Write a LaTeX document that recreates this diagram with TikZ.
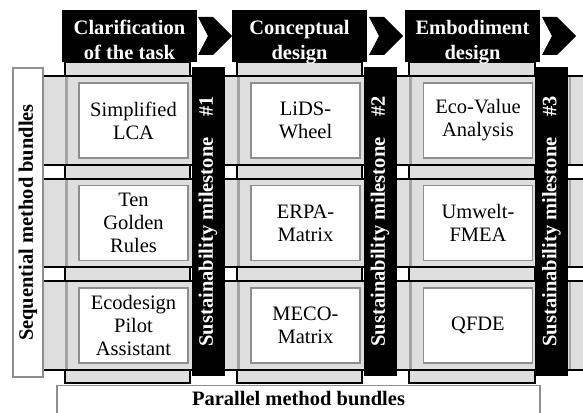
\documentclass[tikz,border=0pt]{standalone}
\usepackage{fontspec}
\setmainfont{Liberation Serif}
\usepackage{tikz}
\usetikzlibrary{calc, positioning}
\definecolor{bandgray}{HTML}{DEDEDE}
\definecolor{edgegray}{HTML}{8E8E8E}
\definecolor{colgray}{HTML}{A4A4A4}

\begin{document}
\begin{tikzpicture}[x=1pt, y=-1pt]
\tikzstyle{mb_band}=[fill=bandgray, draw=black, line width=1.7pt]
\tikzstyle{mb_colline}=[draw=colgray, line width=2.6pt]
\tikzstyle{mb_cell}=[rectangle, draw=edgegray, fill=white, line width=1.2pt,
	minimum width=109pt, minimum height=75pt, inner sep=0pt, align=center,
	font=\fontsize{20.5}{23}\selectfont]
\tikzstyle{mb_phase}=[rectangle, fill=black, minimum width=135pt,
	minimum height=52pt, inner sep=0pt]
\tikzstyle{mb_phasetext}=[text=white, inner sep=0pt, align=center,
	font=\fontsize{20.5}{25}\selectfont\bfseries]
\tikzstyle{mb_stone}=[rectangle, fill=black, text=white, minimum width=309pt,
	minimum height=33pt, inner sep=0pt, rotate=90,
	font=\fontsize{20.5}{23}\selectfont\bfseries]
\tikzstyle{mb_label}=[rectangle, draw=edgegray, fill=white, line width=1.2pt,
	inner sep=0pt, font=\fontsize{20.5}{23}\selectfont\bfseries]
\tikzstyle{mb_arrow}=[fill=black]

\useasboundingbox (0,0) rectangle (583,412);
\clip (0,0) rectangle (583,412);

% column bands
\draw[mb_band] (65,62) rectangle (190,383);
\draw[mb_band] (237,62) rectangle (362,383);
\draw[mb_band] (409,62) rectangle (535,383);

% row bands
\draw[mb_band] (43,76) rectangle (600,165);
\draw[mb_band] (43,179) rectangle (600,267);
\draw[mb_band] (43,281) rectangle (600,370);

% column edges inside the rows
\draw[mb_colline] (66.5,77) -- (66.5,164) (66.5,180) -- (66.5,266) (66.5,282) -- (66.5,369);
\draw[mb_colline] (238.5,77) -- (238.5,164) (238.5,180) -- (238.5,266) (238.5,282) -- (238.5,369);
\draw[mb_colline] (410.5,77) -- (410.5,164) (410.5,180) -- (410.5,266) (410.5,282) -- (410.5,369);
\draw[mb_colline] (570,77) -- (570,164) (570,180) -- (570,266) (570,282) -- (570,369);

% methods
\node[mb_cell] (lca) at (133.5,120.5) {Simplified\\LCA};
\node[mb_cell] (rules) at (133.5,223) {Ten\\Golden\\Rules};
\node[mb_cell] (pilot) at (133.5,325.5) {Ecodesign\\Pilot\\Assistant};
\node[mb_cell] (lids) at (305.5,120.5) {LiDS-\\Wheel};
\node[mb_cell] (erpa) at (305.5,223) {ERPA-\\Matrix};
\node[mb_cell] (meco) at (305.5,325.5) {MECO-\\Matrix};
\node[mb_cell] (ecovalue) at (478,120.5) {Eco-Value\\Analysis};
\node[mb_cell] (fmea) at (478,223) {Umwelt-\\FMEA};
\node[mb_cell] (qfde) at (478,325.5) {QFDE};

% milestones
\node[mb_stone] (stone1) at (208,221.5) {Sustainability milestone\quad\#1};
\node[mb_stone] (stone2) at (380,221.5) {Sustainability milestone\quad\#2};
\node[mb_stone] (stone3) at (551.5,221.5) {Sustainability milestone\quad\#3};

% phases
\node[mb_phase] (clarify) at (129.5,36) {};
\node[mb_phase] (concept) at (299.5,36) {};
\node[mb_phase] (embody) at (472.5,36) {};
\node[mb_phasetext, text depth=0pt] at ($(clarify)+(0,3.5)$) {Clarification\\of the task};
\node[mb_phasetext, text depth=0pt] at ($(concept)+(0,3.5)$) {Conceptual\\design};
\node[mb_phasetext, text depth=0pt] at ($(embody)+(0,3.5)$) {Embodiment\\design};

\fill[mb_arrow] (198,17) -- (213,17) -- (232,36) -- (213,55) -- (198,55) -- (208,36) -- cycle;
\fill[mb_arrow] (369,17) -- (384,17) -- (403,36) -- (384,55) -- (369,55) -- (379,36) -- cycle;
\fill[mb_arrow] (542,17) -- (557,17) -- (576,36) -- (557,55) -- (542,55) -- (552,36) -- cycle;

% bundles
\node[mb_label, minimum width=309pt, minimum height=30pt, rotate=90] (sequential) at (28,222.5) {Sequential method bundles};
\node[mb_label, anchor=north, minimum width=483pt, inner ysep=6pt, text depth=30pt] (parallel) at (298.5,385) {Parallel method bundles};

\end{tikzpicture}
\end{document}
